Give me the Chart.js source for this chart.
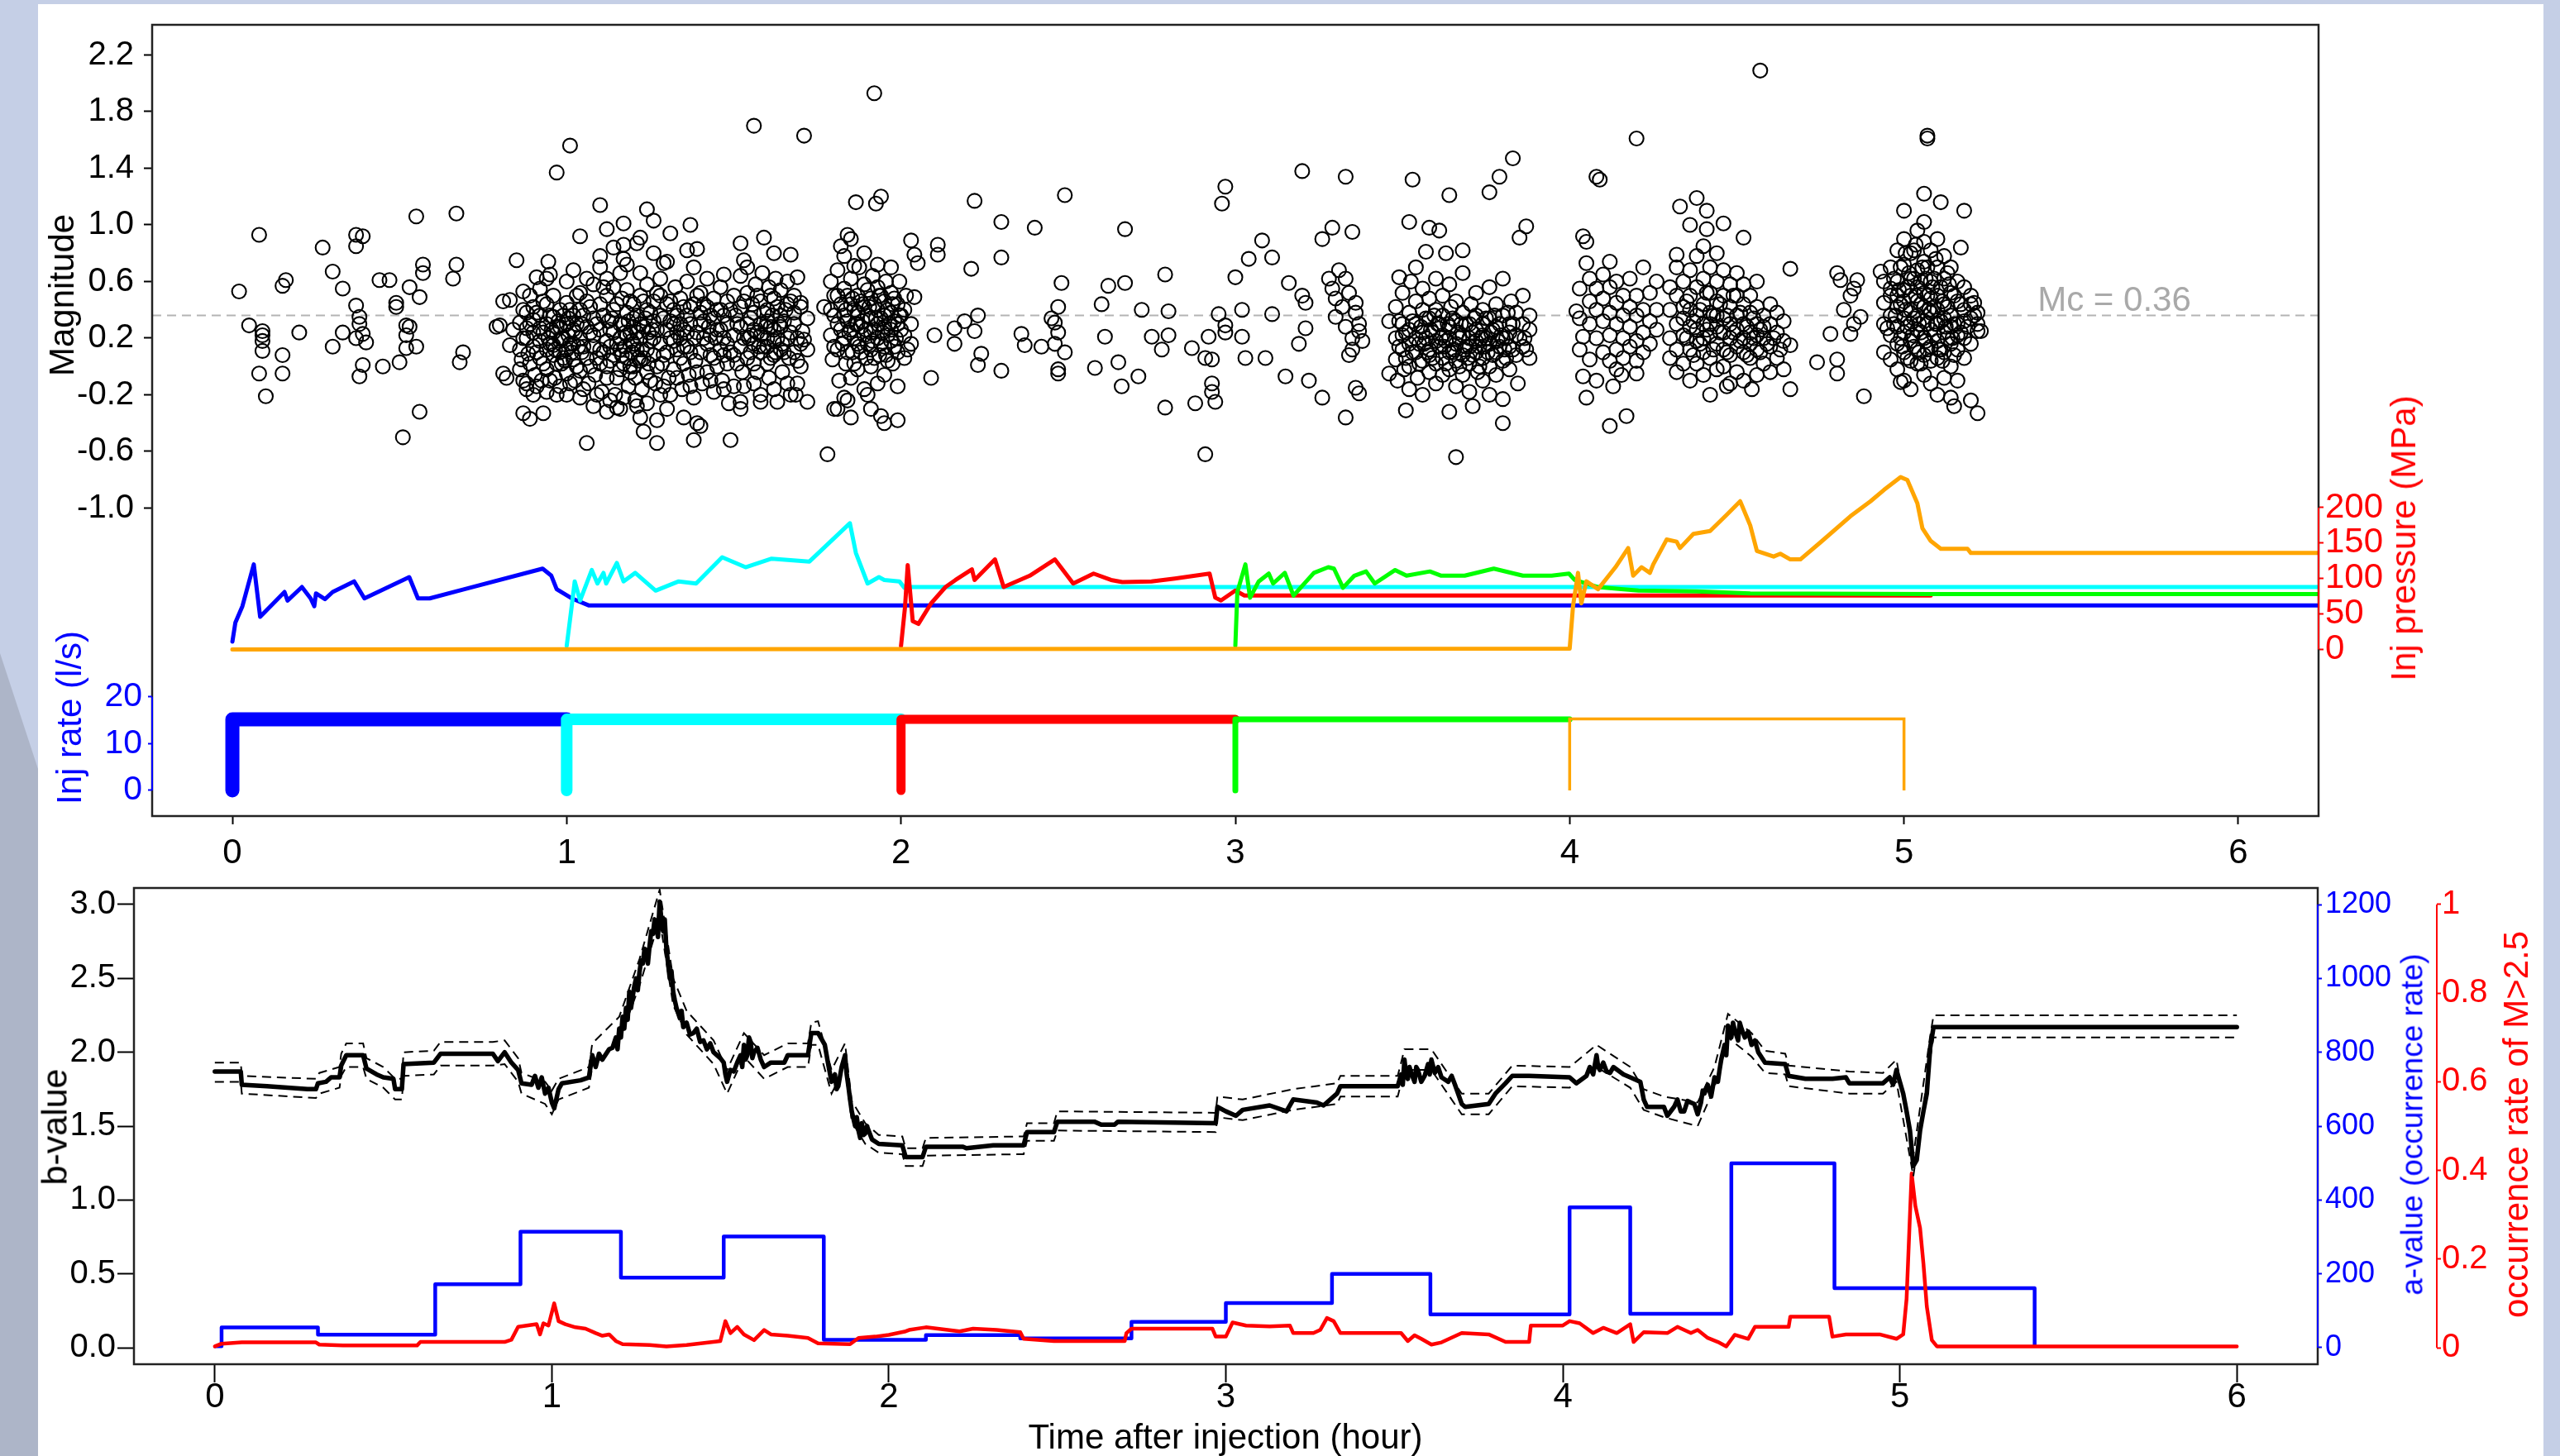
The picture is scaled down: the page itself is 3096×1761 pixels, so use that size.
<!DOCTYPE html>
<html>
<head>
<meta charset="utf-8">
<script src="https://cdn.jsdelivr.net/npm/chart.js@4.4.1/dist/chart.umd.min.js"></script>
<style>
html, body { margin:0; padding:0; }
body { width:3096px; height:1761px; position:relative; overflow:hidden; background:#c5cfe6; font-family:'Liberation Sans', Arial, sans-serif; }
#shade { position:absolute; left:0; top:0; width:46px; height:1761px; background:#adb5c8; clip-path:polygon(0 790px, 46px 930px, 46px 1761px, 0 1761px); }
#sheet { position:absolute; left:46px; top:5px; width:3030px; height:1756px; background:#fff; }
canvas { position:absolute; left:0; }
#topChart, #rateChart { top:0; }
#bottomChart { top:1040px; }
.lab { position:absolute; white-space:nowrap; font-size:42px; line-height:1; transform:translate(-50%,-50%); }
.rot { transform:translate(-50%,-50%) rotate(-90deg); }
</style>
</head>
<body>
<div id="shade"></div>
<div id="sheet"></div>
<canvas id="topChart" width="3096" height="1075"></canvas>
<canvas id="rateChart" width="3096" height="1075"></canvas>
<canvas id="bottomChart" width="3096" height="721"></canvas>

<div class="lab rot" style="left:75px;top:357px;">Magnitude</div>
<div class="lab rot" style="left:84px;top:868px;color:#0000ff;">Inj rate (l/s)</div>
<div class="lab rot" style="left:2907px;top:651px;color:#ff0000;">Inj pressure (MPa)</div>
<div class="lab" style="left:2557px;top:362px;color:#a9a9a9;">Mc = 0.36</div>
<div class="lab rot" style="left:66px;top:1363px;font-size:43px;">b-value</div>
<div class="lab rot" style="left:2917px;top:1360px;color:#0000ff;font-size:37px;">a-value (occurrence rate)</div>
<div class="lab rot" style="left:3043px;top:1360px;color:#ff0000;">occurrence rate of M&gt;2.5</div>
<div class="lab" style="left:1482px;top:1738px;">Time after injection (hour)</div>

<script>
// ---- ticks ----
const timeTicks = [0, 1, 2, 3, 4, 5, 6];
const magTicks = [-1.0, -0.6, -0.2, 0.2, 0.6, 1.0, 1.4, 1.8, 2.2];
const rateTicks = [0, 10, 20];
const pressTicks = [0, 50, 100, 150, 200];
const bTicks = [0, 0.5, 1, 1.5, 2, 2.5, 3];
const aTicks = [0, 200, 400, 600, 800, 1000, 1200];
const occTicks = [0, 0.2, 0.4, 0.6, 0.8, 1];

const mcLevel = 0.36;

// ---- events [time (h), magnitude] ----
const quakesStage1 = [[0.02,0.53],[0.05,0.29],[0.08,0.93],[0.09,0.25],[0.09,0.22],[0.09,0.18],[0.09,0.11],[0.08,-0.05],[0.1,-0.21],[0.15,0.57],[0.16,0.61],[0.15,0.08],[0.15,-0.05],[0.2,0.24],[0.27,0.84],[0.3,0.67],[0.33,0.55],[0.3,0.14],[0.33,0.24],[0.37,0.43],[0.37,0.93],[0.39,0.92],[0.37,0.85],[0.38,0.35],[0.38,0.3],[0.37,0.2],[0.39,0.23],[0.4,0.17],[0.39,0.01],[0.38,-0.07],[0.44,0.61],[0.47,0.61],[0.49,0.45],[0.49,0.42],[0.45,0.0],[0.5,0.03],[0.52,0.29],[0.53,0.28],[0.52,0.22],[0.52,0.13],[0.55,0.14],[0.51,-0.5],[0.53,0.56],[0.56,0.49],[0.57,0.72],[0.57,0.66],[0.55,1.06],[0.56,-0.32],[0.66,0.62],[0.67,0.72],[0.67,1.08],[0.69,0.1],[0.68,0.03],[0.8,0.29],[0.79,0.28],[0.81,0.46],[0.83,0.47],[0.85,0.75],[0.87,0.53],[0.81,-0.05],[0.82,-0.08],[0.83,0.15],[0.84,0.26],[0.88,-0.16],[0.87,-0.33],[0.89,-0.37],[0.93,-0.33]];

const quakesStage2 = [[0.86,-0.02],[0.86,0.12],[0.86,0.31],[0.865,0.05],[0.88,0.38],[0.88,0.2],[0.88,-0.12],[0.885,0.09],[0.88,0.27],[0.9,0.42],[0.9,0.14],[0.905,-0.06],[0.9,0.24],[0.9,0.33],[0.9,-0.2],[0.92,0.55],[0.92,0.06],[0.92,0.18],[0.925,-0.1],[0.92,0.36],[0.92,0.27],[0.94,0.62],[0.94,0.3],[0.94,0.12],[0.94,-0.02],[0.945,0.2],[0.94,-0.18],[0.94,0.44],[0.96,0.24],[0.96,0.08],[0.96,0.35],[0.965,-0.08],[0.96,0.15],[0.96,0.5],[0.98,0.18],[0.98,0.4],[0.98,-0.14],[0.985,0.02],[0.98,0.28],[0.98,0.1],[1.0,0.3],[1.0,0.12],[1.0,-0.05],[1.005,0.22],[1.0,0.45],[1.0,-0.2],[1.0,0.6],[1.02,0.05],[1.02,0.36],[1.02,0.16],[1.025,-0.1],[1.02,0.26],[1.02,0.68],[1.04,0.4],[1.04,0.2],[1.04,-0.03],[1.045,0.1],[1.04,0.52],[1.04,-0.22],[1.06,0.28],[1.06,0.06],[1.06,0.46],[1.065,-0.12],[1.06,0.62],[1.08,0.14],[1.08,0.34],[1.08,0.58],[1.085,-0.06],[1.08,0.22],[1.08,-0.28],[1.1,0.44],[1.1,0.02],[1.1,0.26],[1.1,0.7],[1.105,-0.18],[1.1,0.12],[1.12,0.5],[1.12,0.18],[1.12,-0.08],[1.125,0.32],[1.12,0.62],[1.12,0.0],[1.12,-0.32],[1.14,0.08],[1.14,0.4],[1.14,0.24],[1.145,-0.2],[1.14,0.56],[1.14,0.84],[1.16,0.3],[1.16,0.12],[1.16,-0.02],[1.165,0.48],[1.16,0.2],[1.16,-0.3],[1.16,0.66],[1.18,0.22],[1.18,0.06],[1.18,0.38],[1.185,-0.14],[1.18,0.54],[1.18,0.72],[1.175,0.14],[1.2,0.0],[1.2,0.28],[1.2,0.16],[1.205,-0.24],[1.2,0.44],[1.195,0.1],[1.2,0.34],[1.205,-0.08],[1.22,0.2],[1.22,0.04],[1.22,0.5],[1.225,-0.16],[1.22,0.3],[1.22,0.66],[1.22,-0.36],[1.24,0.12],[1.24,0.4],[1.24,-0.04],[1.245,0.24],[1.24,0.58],[1.24,-0.26],[1.26,0.32],[1.26,0.08],[1.26,0.46],[1.265,-0.12],[1.26,0.2],[1.26,0.8],[1.28,0.16],[1.28,0.5],[1.28,-0.2],[1.285,0.02],[1.28,0.36],[1.28,0.62],[1.3,0.26],[1.3,0.1],[1.3,0.44],[1.305,-0.08],[1.3,0.74],[1.3,-0.3],[1.32,0.4],[1.32,0.18],[1.32,-0.02],[1.325,0.56],[1.32,0.3],[1.34,0.06],[1.34,0.3],[1.34,0.48],[1.345,-0.16],[1.34,0.2],[1.36,0.36],[1.36,0.14],[1.36,0.6],[1.365,-0.06],[1.36,0.24],[1.36,0.82],[1.38,0.2],[1.38,0.44],[1.38,-0.22],[1.385,0.04],[1.38,0.7],[1.4,0.3],[1.4,0.1],[1.4,0.52],[1.405,-0.12],[1.4,0.38],[1.42,0.42],[1.42,0.16],[1.42,-0.04],[1.425,0.28],[1.42,0.62],[1.44,0.34],[1.44,0.06],[1.44,0.48],[1.445,0.2],[1.44,-0.18],[1.46,0.12],[1.46,0.4],[1.46,0.56],[1.465,-0.1],[1.46,0.26],[1.48,0.3],[1.48,0.46],[1.48,0.02],[1.485,-0.26],[1.48,0.16],[1.5,0.22],[1.5,0.5],[1.5,0.08],[1.505,0.36],[1.5,-0.14],[1.52,0.42],[1.52,0.14],[1.52,0.64],[1.525,-0.04],[1.52,0.28],[1.52,-0.3],[1.54,0.3],[1.54,0.52],[1.54,0.06],[1.545,0.2],[1.54,0.7],[1.56,0.16],[1.56,0.38],[1.56,-0.12],[1.565,0.58],[1.56,0.26],[1.56,0.02],[1.58,0.46],[1.58,0.1],[1.58,0.3],[1.585,0.66],[1.58,-0.2],[1.58,0.22],[1.6,0.2],[1.6,0.4],[1.6,0.02],[1.605,0.56],[1.6,0.14],[1.6,0.32],[1.605,-0.08],[1.62,0.26],[1.62,0.08],[1.62,0.48],[1.625,0.62],[1.62,-0.16],[1.62,0.18],[1.64,0.36],[1.64,0.12],[1.64,0.54],[1.645,-0.04],[1.64,0.28],[1.66,0.2],[1.66,0.44],[1.66,-0.12],[1.665,0.06],[1.66,0.6],[1.68,0.3],[1.68,0.1],[1.68,0.5],[1.685,-0.2],[1.68,0.38],[1.7,0.42],[1.7,0.16],[1.7,0.0],[1.705,0.25],[1.72,0.12],[1.72,0.34],[0.945,0.74],[0.95,0.65],[0.91,0.63],[1.04,0.92],[1.12,0.97],[1.17,1.01],[1.24,1.11],[1.26,1.03],[1.31,0.94],[1.37,1.0],[1.1,0.78],[1.17,0.76],[1.17,0.86],[1.21,0.87],[1.22,0.91],[1.29,0.73],[1.39,0.83],[1.47,0.65],[1.52,0.87],[1.53,0.75],[1.59,0.91],[1.62,0.8],[1.67,0.79],[1.69,0.63],[1.7,0.45],[1.71,0.19],[1.72,-0.25],[1.63,-0.25],[1.58,-0.25],[1.52,-0.25],[1.49,-0.52],[1.38,-0.52],[1.27,-0.54],[1.23,-0.46],[1.27,-0.38],[1.15,-0.29],[1.39,-0.4],[1.4,-0.42],[1.35,-0.36],[1.67,-0.2],[1.69,-0.12],[1.56,1.7],[1.71,1.63],[0.97,1.37],[1.01,1.56],[1.1,1.14],[1.06,-0.54],
[0.87,0.2],[0.87,-0.1],[0.87,0.4],[0.89,0.02],[0.89,0.3],[0.89,0.5],[0.91,0.1],[0.91,0.38],[0.91,-0.14],[0.93,0.24],[0.93,0.02],[0.93,0.46],[0.95,0.16],[0.95,-0.1],[0.95,0.36],[0.97,0.28],[0.97,0.02],[0.97,-0.2],[0.99,0.36],[0.99,0.06],[0.99,0.2],[1.01,0.16],[1.01,-0.12],[1.01,0.4],[1.03,0.3],[1.03,0.0],[1.03,0.5],[1.05,0.14],[1.05,0.36],[1.05,-0.16],[1.07,0.24],[1.07,0.0],[1.07,0.42],[1.09,0.06],[1.09,0.3],[1.09,-0.2],[1.11,0.36],[1.11,0.1],[1.11,0.56],[1.13,0.26],[1.13,0.04],[1.13,-0.24],[1.15,0.16],[1.15,0.44],[1.15,-0.08],[1.17,0.02],[1.17,0.3],[1.17,-0.22],[1.19,0.24],[1.19,0.46],[1.19,-0.04],[1.21,0.12],[1.21,0.36],[1.21,-0.28],[1.23,0.28],[1.23,0.06],[1.23,0.46],[1.25,0.18],[1.25,-0.1],[1.25,0.38],[1.27,0.26],[1.27,0.0],[1.27,0.52],[1.29,0.08],[1.29,0.34],[1.29,-0.14],[1.31,0.2],[1.31,0.46],[1.31,-0.2],[1.33,0.12],[1.33,0.36],[1.33,-0.08],[1.35,0.26],[1.35,0.02],[1.35,0.42],[1.37,0.1],[1.37,0.3],[1.37,-0.14],[1.39,0.24],[1.39,0.5],[1.39,-0.04],[1.41,0.2],[1.41,0.44],[1.43,0.08],[1.43,0.36],[1.43,-0.1],[1.45,0.26],[1.45,0.0],[1.47,0.2],[1.47,0.36],[1.47,-0.16],[1.49,0.1],[1.49,0.4],[1.51,0.3],[1.51,0.02],[1.53,0.2],[1.53,0.46],[1.53,-0.14],[1.55,0.1],[1.55,0.34],[1.57,0.24],[1.57,0.5],[1.57,-0.04],[1.59,0.14],[1.59,0.38],[1.61,0.28],[1.61,0.06],[1.61,0.5],[1.63,0.2],[1.63,0.42],[1.65,0.1],[1.65,0.32],[1.67,0.24],[1.67,0.46],[1.69,0.2],[1.69,0.04],
[0.955,0.26],[0.965,0.12],[0.975,0.32],[0.985,0.2],[0.995,0.04],[1.005,0.34],[1.015,0.1],[1.025,0.24],[1.035,0.14],[1.045,0.3],[1.165,0.08],[1.175,0.24],[1.185,0.32],[1.19,0.0],[1.195,0.18],[1.21,0.24],[1.215,0.06],[1.225,0.12],[1.235,0.34],[1.245,0.02],[1.255,0.26],[1.13,0.14],[1.135,0.34],[1.55,0.22],[1.555,0.44],[1.575,0.14],[1.595,0.28],[1.615,0.36],[1.625,0.1],[1.635,0.3],[1.645,0.16],[1.655,0.4],[1.31,0.32],[1.33,0.24],[1.35,0.14],[1.37,0.42],[1.41,0.32],[1.43,0.22],[1.45,0.4],[1.47,0.08]];

const quakesStage3 = [[1.79,0.4],[1.79,0.22],[1.79,0.6],[1.795,0.05],[1.81,0.5],[1.81,0.3],[1.81,0.12],[1.815,-0.1],[1.81,0.68],[1.81,-0.3],[1.83,0.36],[1.83,0.55],[1.83,0.2],[1.835,0.02],[1.83,0.78],[1.83,-0.22],[1.85,0.44],[1.85,0.26],[1.85,0.62],[1.855,0.1],[1.85,-0.08],[1.85,0.9],[1.85,-0.36],[1.87,0.3],[1.87,0.5],[1.87,0.16],[1.875,0.7],[1.87,-0.02],[1.87,0.38],[1.89,0.42],[1.89,0.22],[1.89,0.58],[1.895,0.06],[1.89,0.8],[1.89,-0.16],[1.885,0.32],[1.91,0.34],[1.91,0.12],[1.91,0.48],[1.915,0.64],[1.91,0.0],[1.91,0.24],[1.91,-0.3],[1.93,0.4],[1.93,0.2],[1.93,0.56],[1.935,0.08],[1.93,0.3],[1.93,-0.12],[1.93,0.72],[1.95,0.28],[1.95,0.46],[1.95,0.14],[1.955,0.6],[1.95,-0.06],[1.95,0.36],[1.95,-0.4],[1.97,0.38],[1.97,0.18],[1.97,0.52],[1.975,0.02],[1.97,0.26],[1.97,0.7],[1.99,0.3],[1.99,0.44],[1.99,0.1],[1.995,0.6],[1.99,-0.14],[1.99,-0.38],[2.01,0.22],[2.01,0.4],[2.01,0.06],[2.015,0.5],[2.03,0.3],[2.03,0.16],[1.92,1.93],[1.865,1.16],[1.925,1.15],[1.94,1.2],[1.78,-0.62],[1.8,-0.3],[1.77,0.42],[1.8,0.5],[1.82,0.85],[1.84,0.93],[1.86,0.71],[1.84,-0.24],[1.9,-0.2],[1.94,-0.35],
[1.8,0.36],[1.8,0.14],[1.82,0.26],[1.82,0.44],[1.84,0.1],[1.84,0.32],[1.84,0.5],[1.86,0.2],[1.86,0.4],[1.86,0.02],[1.88,0.28],[1.88,0.46],[1.88,0.1],[1.9,0.36],[1.9,0.16],[1.9,0.54],[1.92,0.26],[1.92,0.44],[1.92,0.06],[1.94,0.34],[1.94,0.16],[1.94,0.5],[1.96,0.22],[1.96,0.4],[1.96,0.04],[1.98,0.32],[1.98,0.14],[1.98,0.48],[2.0,0.26],[2.0,0.36],[2.02,0.12],
[1.825,0.16],[1.835,0.4],[1.845,0.24],[1.855,0.48],[1.865,0.3],[1.875,0.14],[1.885,0.44],[1.895,0.26],[1.905,0.42],[1.915,0.18],[1.925,0.34],[1.935,0.5],[1.945,0.24],[1.955,0.08],[1.965,0.3],[1.975,0.44],[1.985,0.2],[1.995,0.36],
[2.03,0.89],[2.04,0.79],[2.05,0.73],[2.04,0.49],[2.11,0.86],[2.11,0.79],[2.1,0.22],[2.09,-0.08],[2.16,0.27],[2.16,0.16],[2.19,0.32],[2.22,0.25],[2.21,0.69],[2.22,1.17],[2.23,0.36],[2.24,0.09],[2.23,0.01],[2.3,-0.03],[2.3,1.02],[2.3,0.77],[2.4,0.98],[2.36,0.23],[2.37,0.15],[2.42,0.14],[2.45,0.34],[2.46,0.31],[2.47,0.24],[2.47,0.42],[2.48,0.59],[2.49,1.21],[2.46,0.16],[2.49,0.1],[2.47,-0.02],[2.47,-0.05],[2.58,-0.01],[2.6,0.44],[2.61,0.21],[2.62,0.57],[2.67,0.59],[2.67,0.97],[2.65,0.03],[2.66,-0.14],[2.71,-0.07],[2.72,0.4],[2.75,0.21],[2.79,0.65],[2.8,0.39],[2.8,0.22],[2.78,0.12],[2.79,-0.29],[2.87,0.13],[2.88,-0.26],[2.91,-0.62],[2.91,0.06],[2.92,0.21],[2.93,0.05],[2.94,-0.25],[2.93,-0.12],[2.93,-0.18],[2.95,0.37],[2.97,0.29],[2.97,0.24],[2.96,1.15],[2.97,1.27]];

const quakesStage4 = [[3.0,0.63],[3.02,0.4],[3.02,0.21],[3.03,0.06],[3.04,0.76],[3.08,0.89],[3.09,0.06],[3.11,0.77],[3.11,0.37],[3.15,-0.07],[3.16,0.59],[3.19,0.16],[3.2,1.38],[3.2,0.5],[3.21,0.45],[3.22,-0.1],[3.21,0.27],[3.26,-0.22],[3.26,0.9],[3.29,0.98],[3.33,1.34],[3.33,-0.36],[3.35,0.95],[3.36,-0.15],[3.37,-0.19],[3.28,0.62],[3.29,0.55],[3.3,0.48],[3.31,0.68],[3.3,0.35],[3.32,0.42],[3.33,0.28],[3.34,0.52],[3.35,0.2],[3.36,0.38],[3.35,0.12],[3.37,0.3],[3.33,0.62],[3.36,0.45],[3.34,0.08],[3.38,0.18],[3.37,0.25],[3.46,-0.05],[3.46,0.32],[3.49,0.63],[3.51,-0.31],[3.52,1.02],[3.53,1.32],[3.57,0.81],[3.58,0.98],[3.61,0.96],[3.63,0.8],[3.64,1.21],[3.68,0.82],[3.64,-0.32],[3.66,-0.64],[3.71,-0.28],[3.76,1.23],[3.79,1.34],[3.83,1.47],[3.85,0.91],[3.87,0.99],[3.8,-0.4],[3.8,-0.23],[3.48,0.2],[3.48,0.42],[3.48,0.05],[3.485,-0.1],[3.5,0.3],[3.5,0.12],[3.5,0.52],[3.505,-0.02],[3.5,0.22],[3.52,0.38],[3.52,0.16],[3.52,0.0],[3.525,0.6],[3.52,0.26],[3.52,-0.16],[3.54,0.1],[3.54,0.3],[3.54,0.46],[3.545,-0.08],[3.54,0.2],[3.54,0.7],[3.56,0.24],[3.56,0.04],[3.56,0.4],[3.565,0.16],[3.56,0.55],[3.56,-0.2],[3.58,0.34],[3.58,0.12],[3.58,-0.04],[3.585,0.26],[3.58,0.48],[3.58,0.08],[3.6,0.18],[3.6,0.4],[3.6,0.02],[3.605,0.3],[3.6,-0.12],[3.6,0.62],[3.62,0.22],[3.62,0.06],[3.62,0.36],[3.625,0.14],[3.62,0.5],[3.62,-0.06],[3.64,0.28],[3.64,0.1],[3.64,-0.02],[3.645,0.42],[3.64,0.2],[3.64,0.58],[3.66,0.16],[3.66,0.32],[3.66,0.04],[3.665,0.24],[3.66,-0.14],[3.66,0.46],[3.68,0.22],[3.68,0.08],[3.68,0.38],[3.685,0.12],[3.68,-0.06],[3.68,0.66],[3.7,0.3],[3.7,0.14],[3.7,0.02],[3.705,0.44],[3.7,0.2],[3.7,-0.18],[3.72,0.1],[3.72,0.26],[3.72,0.36],[3.725,-0.04],[3.72,0.18],[3.72,0.52],[3.74,0.22],[3.74,0.06],[3.74,0.4],[3.745,0.14],[3.74,0.3],[3.74,-0.1],[3.76,0.16],[3.76,0.34],[3.76,0.0],[3.765,0.24],[3.76,0.56],[3.76,-0.2],[3.78,0.28],[3.78,0.1],[3.78,0.44],[3.785,0.18],[3.78,-0.06],[3.8,0.2],[3.8,0.36],[3.8,0.04],[3.805,0.12],[3.8,0.62],[3.82,0.3],[3.82,0.14],[3.82,-0.02],[3.825,0.46],[3.82,0.24],[3.84,0.22],[3.84,0.38],[3.84,0.08],[3.845,-0.12],[3.86,0.3],[3.86,0.14],[3.86,0.5],[3.865,0.2],[3.88,0.26],[3.88,0.06],[3.88,0.36],
[3.49,0.14],[3.49,0.32],[3.51,0.06],[3.51,0.24],[3.53,0.1],[3.53,0.32],[3.55,0.16],[3.55,0.02],[3.57,0.2],[3.57,0.34],[3.59,0.06],[3.59,0.24],[3.61,0.14],[3.61,0.3],[3.63,0.02],[3.63,0.18],[3.65,0.1],[3.65,0.34],[3.67,0.2],[3.67,0.0],[3.69,0.14],[3.69,0.3],[3.71,0.08],[3.71,0.24],[3.73,0.14],[3.73,0.0],[3.75,0.2],[3.75,0.34],[3.77,0.08],[3.77,0.26],[3.79,0.14],[3.79,0.3],[3.81,0.06],[3.81,0.2],[3.83,0.12],[3.83,0.3],[3.85,0.2],[3.87,0.12],
[3.555,0.28],[3.575,0.1],[3.595,0.36],[3.615,0.2],[3.635,0.3],[3.655,0.12],[3.675,0.3],[3.695,0.06],[3.715,0.34],[3.735,0.2],[3.755,0.1],[3.775,0.36],[3.795,0.22],[3.815,0.38]];

const quakesStage5 = [[4.02,0.39],[4.03,0.34],[4.04,0.21],[4.04,-0.07],[4.05,-0.22],[4.05,0.73],[4.04,0.92],[4.05,0.88],[4.08,1.34],[4.09,1.32],[4.12,-0.42],[4.17,-0.35],[4.12,0.74],[4.13,-0.14],[4.155,-0.06],[4.2,-0.05],[4.2,1.61],[4.03,0.55],[4.03,0.12],[4.06,0.46],[4.06,0.3],[4.06,0.05],[4.06,0.62],[4.08,0.2],[4.08,0.4],[4.08,-0.1],[4.08,0.55],[4.1,0.32],[4.1,0.1],[4.1,0.48],[4.1,0.65],[4.12,0.22],[4.12,0.38],[4.12,0.04],[4.12,0.56],[4.14,0.3],[4.14,0.12],[4.14,0.45],[4.14,-0.02],[4.14,0.6],[4.16,0.2],[4.16,0.36],[4.16,0.5],[4.16,0.06],[4.18,0.28],[4.18,0.14],[4.18,0.62],[4.18,0.42],[4.2,0.36],[4.2,0.18],[4.2,0.5],[4.2,0.04],[4.22,0.24],[4.22,0.4],[4.22,0.7],[4.22,0.1],[4.24,0.32],[4.24,0.52],[4.24,0.16],[4.26,0.4],[4.26,0.26],[4.26,0.6],[4.33,1.13],[4.38,1.19],[4.41,1.1],[4.57,2.09],[4.42,-0.2],[4.47,-0.14],[4.545,-0.16],[4.66,-0.16],[4.66,0.15],[4.66,0.69],[4.36,1.0],[4.41,0.97],[4.46,1.01],[4.52,0.91],[4.32,0.79],[4.3,0.4],[4.3,0.2],[4.3,0.56],[4.3,0.06],[4.32,0.3],[4.32,0.5],[4.32,0.12],[4.32,0.7],[4.32,-0.04],[4.34,0.42],[4.34,0.22],[4.34,0.6],[4.34,0.02],[4.34,0.34],[4.36,0.5],[4.36,0.28],[4.36,0.12],[4.36,0.68],[4.36,0.4],[4.36,-0.1],[4.38,0.36],[4.38,0.18],[4.38,0.56],[4.38,0.02],[4.38,0.78],[4.38,0.26],[4.4,0.44],[4.4,0.3],[4.4,0.1],[4.4,0.62],[4.4,0.2],[4.4,0.85],[4.4,-0.06],[4.42,0.38],[4.42,0.22],[4.42,0.52],[4.42,0.06],[4.42,0.7],[4.42,0.3],[4.44,0.46],[4.44,0.16],[4.44,0.28],[4.44,0.6],[4.44,-0.02],[4.44,0.36],[4.44,0.8],[4.46,0.34],[4.46,0.12],[4.46,0.5],[4.46,0.24],[4.46,0.68],[4.46,0.0],[4.48,0.42],[4.48,0.2],[4.48,0.58],[4.48,0.08],[4.48,0.3],[4.48,-0.12],[4.5,0.36],[4.5,0.14],[4.5,0.26],[4.5,0.5],[4.5,-0.04],[4.5,0.66],[4.52,0.3],[4.52,0.1],[4.52,0.44],[4.52,0.2],[4.52,0.58],[4.52,-0.1],[4.54,0.24],[4.54,0.38],[4.54,0.06],[4.54,0.5],[4.54,0.16],[4.56,0.3],[4.56,0.12],[4.56,0.42],[4.56,-0.06],[4.56,0.22],[4.56,0.6],[4.58,0.2],[4.58,0.36],[4.58,0.02],[4.58,0.28],[4.6,0.14],[4.6,0.3],[4.6,-0.04],[4.6,0.44],[4.62,0.24],[4.62,0.06],[4.62,0.38],[4.64,0.18],[4.64,0.32],[4.64,-0.02],
[4.35,0.2],[4.35,0.46],[4.37,0.32],[4.37,0.08],[4.39,0.4],[4.39,0.16],[4.41,0.26],[4.41,0.52],[4.43,0.12],[4.43,0.36],[4.45,0.24],[4.45,0.44],[4.47,0.1],[4.47,0.36],[4.49,0.24],[4.49,0.5],[4.51,0.18],[4.51,0.38],[4.53,0.28],[4.53,0.08],[4.55,0.34],[4.55,0.2],[4.57,0.26],[4.57,0.1],[4.59,0.16],[4.61,0.2],[4.63,0.12]];

const quakesStage6 = [[4.74,0.03],[4.8,0.05],[4.8,-0.05],[4.78,0.23],[4.8,0.66],[4.81,0.61],[4.82,0.4],[4.86,0.61],[4.85,0.55],[4.84,0.5],[4.84,0.23],[4.88,-0.21],[4.85,0.3],[4.87,0.35],[5.07,1.61],[5.07,1.63],[5.06,1.22],[5.11,1.16],[5.18,1.1],[5.15,-0.28],[5.2,-0.24],[5.22,-0.33],[4.99,-0.11],[5.22,0.25],[4.93,0.67],[4.95,0.27],[4.96,0.55],[5.21,0.45],[5.23,0.25],[5.17,0.84],[5.0,1.1],[4.94,0.6],[4.94,0.3],[4.94,0.45],[4.94,0.1],[4.96,0.5],[4.96,0.22],[4.96,0.36],[4.96,0.7],[4.96,0.05],[4.98,0.42],[4.98,0.16],[4.98,0.6],[4.98,0.28],[4.98,0.82],[4.98,-0.02],[4.98,0.5],[5.0,0.34],[5.0,0.1],[5.0,0.54],[5.0,0.24],[5.0,0.72],[5.0,0.46],[5.0,-0.1],[5.0,0.9],[5.02,0.4],[5.02,0.18],[5.02,0.62],[5.02,0.3],[5.02,0.04],[5.02,0.8],[5.02,0.5],[5.02,-0.16],[5.04,0.26],[5.04,0.46],[5.04,0.12],[5.04,0.68],[5.04,0.36],[5.04,0.02],[5.04,0.96],[5.04,0.56],[5.06,0.32],[5.06,0.52],[5.06,0.2],[5.06,0.74],[5.06,0.08],[5.06,0.42],[5.06,-0.06],[5.06,0.88],[5.06,1.02],[5.08,0.38],[5.08,0.14],[5.08,0.6],[5.08,0.26],[5.08,0.82],[5.08,0.48],[5.08,-0.12],[5.08,0.04],[5.1,0.3],[5.1,0.5],[5.1,0.18],[5.1,0.7],[5.1,0.4],[5.1,0.06],[5.1,0.9],[5.1,-0.2],[5.12,0.24],[5.12,0.44],[5.12,0.1],[5.12,0.62],[5.12,0.34],[5.12,0.78],[5.12,-0.08],[5.14,0.36],[5.14,0.16],[5.14,0.52],[5.14,0.28],[5.14,0.7],[5.14,0.0],[5.14,-0.22],[5.16,0.3],[5.16,0.46],[5.16,0.12],[5.16,0.6],[5.16,0.22],[5.16,-0.1],[5.18,0.4],[5.18,0.2],[5.18,0.56],[5.18,0.32],[5.18,0.06],[5.2,0.34],[5.2,0.16],[5.2,0.5],[5.2,0.44],[5.22,0.3],[5.22,0.38],
[4.97,0.3],[4.97,0.62],[4.99,0.2],[4.99,0.44],[4.99,0.7],[5.01,0.28],[5.01,0.56],[5.01,0.06],[5.03,0.34],[5.03,0.14],[5.03,0.62],[5.03,0.82],[5.05,0.24],[5.05,0.44],[5.05,0.6],[5.05,0.02],[5.07,0.3],[5.07,0.5],[5.07,0.12],[5.07,0.7],[5.09,0.22],[5.09,0.42],[5.09,0.62],[5.11,0.32],[5.11,0.12],[5.11,0.56],[5.13,0.2],[5.13,0.42],[5.13,0.66],[5.15,0.3],[5.15,0.08],[5.15,0.5],[5.17,0.24],[5.17,0.44],[5.19,0.28],[5.21,0.36],
[4.975,0.36],[4.985,0.54],[4.995,0.14],[5.005,0.4],[5.015,0.66],[5.025,0.22],[5.035,0.5],[5.045,0.3],[5.055,0.7],[5.065,0.18],[5.075,0.4],[5.085,0.56],[5.095,0.3],[5.105,0.12],[5.115,0.46],[5.125,0.28],[5.135,0.58],[5.145,0.2],[5.005,0.8],[5.035,0.86],[5.065,0.62],[5.095,0.76],[5.115,0.04],[5.045,0.1]];

// ---- injection pressure per stage [time, MPa] ----
const pressStage1 = [[0,11],[0.009,38],[0.03,61],[0.064,120],[0.083,46],[0.156,81],[0.165,69],[0.208,88],[0.234,72],[0.245,61],[0.25,79],[0.277,71],[0.3,81],[0.364,96],[0.395,72],[0.529,102],[0.555,72],[0.59,72],[0.694,85],[0.928,114],[0.954,104],[0.97,85],[1.015,72],[1.067,62],[6.24,62]];
const pressStage2 = [[1.0,5],[1.015,61],[1.024,96],[1.04,69],[1.075,112],[1.092,93],[1.11,108],[1.118,93],[1.15,122],[1.17,96],[1.205,108],[1.266,83],[1.335,96],[1.387,93],[1.465,130],[1.535,116],[1.613,128],[1.726,124],[1.847,178],[1.865,136],[1.9,93],[1.934,102],[1.95,98],[1.995,96],[2.01,87],[2.03,88],[6.24,88]];
const pressStage3 = [[2.0,5],[2.012,60],[2.02,119],[2.035,40],[2.052,36],[2.09,65],[2.133,88],[2.163,98],[2.212,113],[2.22,98],[2.281,127],[2.307,88],[2.385,104],[2.46,127],[2.515,93],[2.576,107],[2.628,98],[2.662,95],[2.749,96],[2.819,100],[2.923,107],[2.94,73],[2.957,69],[3.0,83],[3.027,76],[5.08,76]];
const pressStage4 = [[3.0,5],[3.006,81],[3.03,120],[3.044,73],[3.07,96],[3.1,107],[3.113,93],[3.148,108],[3.174,76],[3.235,108],[3.278,116],[3.295,114],[3.322,87],[3.356,104],[3.391,110],[3.417,93],[3.478,112],[3.512,104],[3.582,110],[3.616,104],[3.686,104],[3.773,114],[3.86,104],[3.946,104],[3.998,107],[4.015,98],[4.085,88],[4.154,85],[4.206,83],[4.38,82],[4.54,79],[5.08,78],[6.24,78]];
const pressStage5 = [[0,0],[4.0,1],[4.01,61],[4.025,108],[4.035,65],[4.05,96],[4.085,85],[4.137,116],[4.175,143],[4.19,104],[4.215,116],[4.24,108],[4.25,120],[4.29,155],[4.32,152],[4.33,143],[4.37,163],[4.42,167],[4.47,190],[4.51,209],[4.54,175],[4.56,139],[4.61,131],[4.63,135],[4.66,127],[4.69,127],[4.75,151],[4.84,188],[4.9,209],[4.94,225],[4.99,243],[5.01,239],[5.04,206],[5.055,171],[5.08,153],[5.11,142],[5.19,142],[5.2,136],[6.24,136]];

// ---- injection rate per stage [time, l/s] ----
const rateStage1 = [[0,0],[0,15.2],[1.0,15.2]];
const rateStage2 = [[1.0,0],[1.0,15.2],[2.0,15.2]];
const rateStage3 = [[2.0,0],[2.0,15.2],[3.0,15.2]];
const rateStage4 = [[3.0,0],[3.0,15.2],[4.0,15.2]];
const rateStage5 = [[4.0,0],[4.0,15.3],[5.0,15.3],[5.0,0]];

// ---- b-value with bounds [time, b] ----
const bValue = [[0,1.87],[0.077,1.87],[0.08,1.78],[0.155,1.77],[0.275,1.75],[0.3,1.75],[0.306,1.79],[0.33,1.8],[0.345,1.83],[0.37,1.83],[0.375,1.91],[0.39,1.98],[0.44,1.98],[0.45,1.89],[0.48,1.85],[0.5,1.83],[0.53,1.82],[0.535,1.75],[0.555,1.75],[0.56,1.92],[0.65,1.93],[0.67,1.99],[0.825,1.99],[0.84,1.94],[0.86,2.0],[0.88,1.93],[0.9,1.88],[0.91,1.79],[0.94,1.78],[0.95,1.84],[0.96,1.76],[0.97,1.83],[0.98,1.72],[0.99,1.76],[1.0,1.66],[1.007,1.62],[1.015,1.7],[1.02,1.75],[1.03,1.79],[1.085,1.81],[1.11,1.83],[1.12,1.98],[1.13,1.9],[1.14,1.99],[1.15,1.95],[1.17,2.02],[1.18,2.03],[1.19,2.1],[1.195,2.02],[1.2,2.16],[1.205,2.1],[1.21,2.24],[1.215,2.16],[1.22,2.3],[1.225,2.22],[1.23,2.41],[1.235,2.3],[1.24,2.38],[1.245,2.45],[1.25,2.5],[1.255,2.42],[1.26,2.54],[1.265,2.62],[1.27,2.6],[1.275,2.7],[1.28,2.69],[1.285,2.6],[1.29,2.72],[1.295,2.82],[1.3,2.8],[1.305,2.9],[1.31,2.85],[1.315,2.78],[1.32,3.02],[1.325,2.9],[1.33,2.82],[1.335,2.9],[1.34,2.7],[1.345,2.6],[1.35,2.5],[1.355,2.55],[1.36,2.41],[1.365,2.35],[1.37,2.3],[1.38,2.23],[1.385,2.28],[1.39,2.17],[1.4,2.2],[1.41,2.12],[1.42,2.13],[1.43,2.16],[1.44,2.07],[1.45,2.08],[1.46,2.02],[1.47,2.06],[1.48,2.0],[1.5,1.96],[1.51,1.93],[1.515,1.85],[1.52,1.8],[1.53,1.88],[1.54,1.87],[1.55,1.93],[1.56,1.98],[1.565,1.9],[1.57,2.05],[1.575,1.95],[1.58,1.98],[1.585,2.1],[1.59,2.07],[1.595,1.96],[1.6,2.0],[1.61,2.03],[1.62,1.95],[1.63,1.9],[1.65,1.93],[1.69,1.93],[1.7,1.98],[1.76,1.98],[1.77,2.13],[1.79,2.13],[1.81,2.05],[1.82,1.92],[1.83,1.8],[1.84,1.85],[1.845,1.75],[1.85,1.77],[1.86,1.9],[1.87,1.98],[1.875,1.85],[1.88,1.77],[1.885,1.68],[1.89,1.6],[1.895,1.55],[1.9,1.5],[1.905,1.56],[1.91,1.47],[1.915,1.42],[1.92,1.52],[1.925,1.44],[1.93,1.45],[1.935,1.5],[1.94,1.47],[1.95,1.41],[1.97,1.38],[2.04,1.37],[2.05,1.29],[2.1,1.29],[2.11,1.36],[2.22,1.36],[2.23,1.35],[2.31,1.37],[2.4,1.37],[2.41,1.46],[2.49,1.46],[2.5,1.53],[2.61,1.53],[2.63,1.51],[2.67,1.51],[2.68,1.53],[2.97,1.52],[2.975,1.63],[3.0,1.6],[3.03,1.57],[3.05,1.61],[3.13,1.64],[3.18,1.6],[3.2,1.68],[3.27,1.66],[3.29,1.64],[3.33,1.72],[3.34,1.77],[3.51,1.77],[3.52,1.85],[3.525,1.78],[3.53,1.95],[3.535,1.84],[3.54,1.82],[3.545,1.9],[3.55,1.86],[3.56,1.8],[3.565,1.9],[3.57,1.88],[3.58,1.8],[3.59,1.84],[3.6,1.92],[3.605,1.85],[3.61,1.95],[3.62,1.86],[3.63,1.9],[3.64,1.83],[3.66,1.8],[3.67,1.84],[3.68,1.78],[3.7,1.65],[3.71,1.63],[3.78,1.65],[3.8,1.72],[3.83,1.79],[3.85,1.84],[3.9,1.84],[4.02,1.83],[4.04,1.79],[4.07,1.84],[4.08,1.9],[4.09,1.85],[4.1,1.98],[4.105,1.9],[4.11,1.88],[4.12,1.93],[4.13,1.87],[4.14,1.86],[4.15,1.9],[4.18,1.85],[4.2,1.83],[4.23,1.8],[4.24,1.68],[4.25,1.63],[4.3,1.63],[4.31,1.57],[4.33,1.63],[4.34,1.68],[4.35,1.6],[4.36,1.6],[4.37,1.67],[4.38,1.66],[4.39,1.65],[4.4,1.58],[4.41,1.66],[4.415,1.74],[4.42,1.72],[4.43,1.78],[4.44,1.7],[4.45,1.83],[4.46,1.8],[4.465,1.88],[4.47,1.95],[4.48,2.05],[4.485,1.98],[4.49,2.18],[4.5,2.1],[4.505,2.2],[4.51,2.15],[4.52,2.08],[4.525,2.2],[4.53,2.16],[4.54,2.1],[4.55,2.14],[4.56,2.05],[4.57,2.08],[4.58,2.0],[4.6,1.93],[4.66,1.92],[4.67,1.84],[4.72,1.82],[4.8,1.82],[4.84,1.83],[4.85,1.79],[4.95,1.79],[4.97,1.83],[4.98,1.78],[4.99,1.88],[5.0,1.8],[5.01,1.72],[5.02,1.6],[5.03,1.47],[5.04,1.23],[5.05,1.27],[5.06,1.47],[5.07,1.6],[5.08,1.72],[5.09,2.03],[5.1,2.17],[6.0,2.17]];
const bUpper = [[0,1.93],[0.077,1.93],[0.08,1.84],[0.3,1.82],[0.31,1.86],[0.37,1.9],[0.375,1.99],[0.39,2.06],[0.44,2.06],[0.45,1.96],[0.5,1.9],[0.535,1.82],[0.555,1.82],[0.56,2.0],[0.65,2.01],[0.67,2.07],[0.825,2.07],[0.86,2.08],[0.9,1.96],[0.91,1.86],[0.98,1.8],[1.0,1.74],[1.02,1.82],[1.11,1.9],[1.12,2.06],[1.2,2.24],[1.26,2.63],[1.32,3.1],[1.36,2.5],[1.4,2.28],[1.48,2.08],[1.52,1.88],[1.57,2.13],[1.63,1.98],[1.7,2.06],[1.76,2.06],[1.77,2.2],[1.79,2.21],[1.83,1.88],[1.87,2.06],[1.89,1.67],[1.93,1.52],[1.97,1.44],[2.04,1.43],[2.05,1.35],[2.1,1.35],[2.11,1.42],[2.4,1.43],[2.41,1.52],[2.49,1.52],[2.5,1.6],[2.97,1.59],[2.975,1.7],[3.05,1.68],[3.2,1.75],[3.33,1.79],[3.34,1.84],[3.51,1.84],[3.53,2.02],[3.61,2.02],[3.7,1.72],[3.78,1.72],[3.85,1.91],[4.02,1.9],[4.1,2.05],[4.2,1.9],[4.24,1.75],[4.3,1.7],[4.4,1.66],[4.45,1.9],[4.49,2.26],[4.56,2.13],[4.6,2.01],[4.66,1.99],[4.67,1.91],[4.85,1.87],[4.95,1.86],[4.99,1.95],[5.04,1.3],[5.09,2.11],[5.1,2.25],[6.0,2.25]];
const bLower = [[0,1.8],[0.077,1.8],[0.08,1.72],[0.3,1.69],[0.31,1.72],[0.37,1.76],[0.375,1.84],[0.39,1.9],[0.44,1.9],[0.45,1.82],[0.5,1.76],[0.535,1.68],[0.555,1.68],[0.56,1.84],[0.65,1.85],[0.67,1.91],[0.825,1.91],[0.86,1.92],[0.9,1.8],[0.91,1.72],[0.98,1.65],[1.0,1.58],[1.02,1.68],[1.11,1.76],[1.12,1.9],[1.2,2.08],[1.26,2.45],[1.32,2.9],[1.36,2.32],[1.4,2.12],[1.48,1.92],[1.52,1.72],[1.57,1.97],[1.63,1.82],[1.7,1.9],[1.76,1.9],[1.77,2.05],[1.79,2.05],[1.83,1.72],[1.87,1.9],[1.89,1.53],[1.93,1.38],[1.97,1.32],[2.04,1.31],[2.05,1.23],[2.1,1.23],[2.11,1.3],[2.4,1.31],[2.41,1.4],[2.49,1.4],[2.5,1.47],[2.97,1.46],[2.975,1.56],[3.05,1.54],[3.2,1.61],[3.33,1.65],[3.34,1.7],[3.51,1.7],[3.53,1.88],[3.61,1.88],[3.7,1.58],[3.78,1.58],[3.85,1.77],[4.02,1.76],[4.1,1.9],[4.2,1.76],[4.24,1.61],[4.3,1.56],[4.4,1.5],[4.45,1.76],[4.49,2.1],[4.56,1.97],[4.6,1.86],[4.66,1.85],[4.67,1.77],[4.85,1.72],[4.95,1.72],[4.99,1.8],[5.04,1.16],[5.09,1.96],[5.1,2.1],[6.0,2.1]];

// ---- a-value steps [start time, a] ----
const aValue = [[0,4],[0.02,55],[0.306,35],[0.654,172],[0.907,314],[1.205,190],[1.51,301],[1.807,21],[2.11,34],[2.39,25],[2.72,70],[3.0,121],[3.315,200],[3.607,90],[4.02,380],[4.2,92],[4.5,499],[4.806,161],[5.4,0]];

// ---- occurrence rate of M>2.5 [time, rate] ----
const occRate = [[0,0.003],[0.02,0.009],[0.08,0.012],[0.3,0.012],[0.31,0.007],[0.38,0.005],[0.6,0.005],[0.61,0.013],[0.86,0.013],[0.88,0.018],[0.9,0.047],[0.955,0.053],[0.965,0.03],[0.975,0.055],[0.99,0.05],[1.007,0.1],[1.02,0.06],[1.04,0.053],[1.07,0.046],[1.1,0.043],[1.13,0.033],[1.15,0.027],[1.17,0.03],[1.19,0.015],[1.21,0.008],[1.29,0.006],[1.34,0.003],[1.4,0.006],[1.5,0.015],[1.515,0.06],[1.53,0.033],[1.55,0.047],[1.57,0.03],[1.6,0.017],[1.63,0.04],[1.65,0.03],[1.7,0.027],[1.76,0.022],[1.79,0.01],[1.885,0.008],[1.91,0.022],[1.96,0.025],[2.0,0.029],[2.05,0.037],[2.06,0.04],[2.11,0.046],[2.21,0.037],[2.25,0.043],[2.32,0.04],[2.39,0.035],[2.4,0.02],[2.49,0.015],[2.7,0.015],[2.705,0.033],[2.72,0.043],[2.96,0.043],[2.97,0.025],[3.0,0.025],[3.02,0.057],[3.06,0.05],[3.13,0.048],[3.19,0.05],[3.2,0.033],[3.26,0.033],[3.28,0.04],[3.3,0.067],[3.32,0.06],[3.34,0.033],[3.52,0.033],[3.54,0.015],[3.56,0.028],[3.58,0.02],[3.61,0.007],[3.64,0.012],[3.7,0.033],[3.78,0.03],[3.83,0.013],[3.9,0.013],[3.905,0.05],[4.0,0.05],[4.02,0.06],[4.05,0.055],[4.09,0.033],[4.12,0.045],[4.16,0.033],[4.2,0.053],[4.21,0.013],[4.24,0.035],[4.31,0.033],[4.34,0.047],[4.38,0.033],[4.4,0.04],[4.43,0.022],[4.46,0.013],[4.485,0.003],[4.51,0.029],[4.55,0.02],[4.57,0.047],[4.67,0.047],[4.675,0.07],[4.79,0.07],[4.8,0.025],[4.84,0.03],[4.94,0.03],[4.99,0.02],[5.01,0.03],[5.02,0.11],[5.035,0.393],[5.046,0.32],[5.06,0.27],[5.07,0.19],[5.08,0.093],[5.095,0.017],[5.11,0.003],[6.0,0.003]];

// ---- helpers ----
const FONT = "'Liberation Sans', Arial, sans-serif";
const xy = arr => arr.map(([x, y]) => ({x, y}));

function lineSet(arr, axis, color, width, order, extra) {
  return Object.assign({
    type: 'line', data: xy(arr), yAxisID: axis, borderColor: color, borderWidth: width,
    pointRadius: 0, fill: false, tension: 0, order: order,
    borderJoinStyle: 'round', borderCapStyle: 'round'
  }, extra || {});
}

function axisOpts(o) {
  return {
    type: 'linear', position: o.position, weight: o.weight || 0, min: o.min, max: o.max,
    afterBuildTicks: s => { s.ticks = o.ticks.map(v => ({value: v})); },
    afterFit: s => {
      if (o.width !== undefined) s.width = o.width;
      if (o.height !== undefined) s.height = o.height;
      s.paddingTop = 0; s.paddingBottom = 0; s.paddingLeft = 0; s.paddingRight = 0;
    },
    grid: {drawOnChartArea: false, drawTicks: true, tickLength: o.tl, tickWidth: 2, tickColor: o.color},
    border: {display: false},
    ticks: {
      color: o.color, padding: o.pad, autoSkip: false, maxRotation: 0,
      font: {family: FONT, size: o.size, lineHeight: 1},
      callback: o.fmt
    }
  };
}

// plot box plus coloured axis lines spanning first..last tick
function framePlugin(axisLines, drawBox) {
  return {
    id: 'frame',
    afterDraw(chart) {
      const {ctx, chartArea: a} = chart;
      ctx.save();
      if (drawBox) {
        ctx.strokeStyle = '#222';
        ctx.lineWidth = 2.5;
        ctx.strokeRect(a.left, a.top, a.right - a.left, a.bottom - a.top);
      }
      axisLines.forEach(l => {
        const s = chart.scales[l.axis];
        const x = s.position === 'left' ? s.right : s.left;
        ctx.strokeStyle = l.color;
        ctx.lineWidth = 2;
        ctx.beginPath();
        ctx.moveTo(x, s.getPixelForValue(l.ticks[0]));
        ctx.lineTo(x, s.getPixelForValue(l.ticks[l.ticks.length - 1]));
        ctx.stroke();
      });
      ctx.restore();
    }
  };
}

const allQuakes = [].concat(quakesStage1, quakesStage2, quakesStage3, quakesStage4, quakesStage5, quakesStage6);
const baseOptions = {responsive: false, animation: false, devicePixelRatio: 1,
  plugins: {legend: {display: false}, tooltip: {enabled: false}}};

// ---- top panel: events + pressure ----
new Chart(document.getElementById('topChart'), {
  type: 'scatter',
  data: {
    datasets: [
      {type: 'scatter', data: xy(allQuakes), yAxisID: 'yMag', pointStyle: 'circle', pointRadius: 8.5,
       pointBorderWidth: 2.1, borderColor: '#000', backgroundColor: 'rgba(0,0,0,0)', order: 0},
      lineSet([[-0.24, mcLevel], [6.24, mcLevel]], 'yMag', '#b4b4b4', 2, 20, {borderDash: [11, 7], borderCapStyle: 'butt'}),
      lineSet(pressStage1, 'yPress', '#0000ff', 5, 9),
      lineSet(pressStage2, 'yPress', '#00ffff', 5, 8),
      lineSet(pressStage3, 'yPress', '#ff0000', 5, 7),
      lineSet(pressStage4, 'yPress', '#00ff00', 5, 6),
      lineSet(pressStage5, 'yPress', '#ffa500', 5, 5)
    ]
  },
  options: Object.assign({}, baseOptions, {
    layout: {padding: {top: 30, left: 0, right: 0, bottom: 0}},
    scales: {
      x: axisOpts({position: 'bottom', min: -0.24, max: 6.24, ticks: timeTicks, height: 88, tl: 10, pad: 14,
                   color: '#000', size: 42, fmt: v => String(v)}),
      yMag: axisOpts({position: 'left', min: -3.1752, max: 2.4131, ticks: magTicks, width: 184, tl: 10, pad: 12,
                      color: '#000', size: 40, fmt: v => v.toFixed(1)}),
      yPress: axisOpts({position: 'right', min: -235.0, max: 881.0, ticks: pressTicks, width: 292, tl: 6, pad: 2,
                        color: '#ff0000', size: 42, fmt: v => String(v)})
    }
  }),
  plugins: [framePlugin([{axis: 'yPress', ticks: pressTicks, color: '#ff0000'}], true)]
});

// ---- top panel overlay: injection rate, same plot box ----
new Chart(document.getElementById('rateChart'), {
  type: 'scatter',
  data: {
    datasets: [
      lineSet(rateStage1, 'yRate', '#0000ff', 17, 5),
      lineSet(rateStage2, 'yRate', '#00ffff', 14, 4),
      lineSet(rateStage3, 'yRate', '#ff0000', 11, 3),
      lineSet(rateStage4, 'yRate', '#00ff00', 7, 2),
      lineSet(rateStage5, 'yRate', '#ffa500', 3.5, 1, {borderCapStyle: 'butt', borderJoinStyle: 'miter'})
    ]
  },
  options: Object.assign({}, baseOptions, {
    layout: {padding: {top: 30, left: 0, right: 292, bottom: 88}},
    scales: {
      x: {type: 'linear', min: -0.24, max: 6.24, display: false},
      yRate: axisOpts({position: 'left', min: -5.487, max: 163.89, ticks: rateTicks, width: 184, tl: 5, pad: 7,
                       color: '#0000ff', size: 41, fmt: v => String(v)})
    }
  }),
  plugins: [framePlugin([{axis: 'yRate', ticks: rateTicks, color: '#0000ff'}], false)]
});

// ---- bottom panel: b-value, a-value, occurrence rate ----
new Chart(document.getElementById('bottomChart'), {
  type: 'scatter',
  data: {
    datasets: [
      lineSet(bValue, 'yB', '#000', 5.5, 1),
      lineSet(bUpper, 'yB', '#000', 2, 2, {borderDash: [11, 7], borderCapStyle: 'butt', borderJoinStyle: 'miter'}),
      lineSet(bLower, 'yB', '#000', 2, 2, {borderDash: [11, 7], borderCapStyle: 'butt', borderJoinStyle: 'miter'}),
      lineSet(occRate, 'yR', '#ff0000', 4.5, 3),
      lineSet(aValue, 'yA', '#0000ff', 4.5, 4, {stepped: 'before', borderCapStyle: 'butt'})
    ]
  },
  options: Object.assign({}, baseOptions, {
    layout: {padding: {top: 34, left: 0, right: 0, bottom: 0}},
    scales: {
      x: axisOpts({position: 'bottom', min: -0.24, max: 6.24, ticks: timeTicks, height: 111, tl: 22, pad: -3,
                   color: '#000', size: 42, fmt: v => String(v)}),
      yB: axisOpts({position: 'left', min: -0.1119, max: 3.1119, ticks: bTicks, width: 162, tl: 20, pad: 2,
                    color: '#000', size: 40, fmt: v => v.toFixed(1)}),
      yA: axisOpts({position: 'right', weight: 0, min: -44.8, max: 1244.8, ticks: aTicks, width: 144, tl: 5, pad: 4,
                    color: '#0000ff', size: 36, fmt: v => String(v)}),
      yR: axisOpts({position: 'right', weight: 1, min: -0.0373, max: 1.0373, ticks: occTicks, width: 149, tl: 5, pad: 1,
                    color: '#ff0000', size: 40, fmt: v => String(v)})
    }
  }),
  plugins: [framePlugin([
    {axis: 'yA', ticks: aTicks, color: '#0000ff'},
    {axis: 'yR', ticks: occTicks, color: '#ff0000'}
  ], true)]
});
</script>
</body>
</html>
